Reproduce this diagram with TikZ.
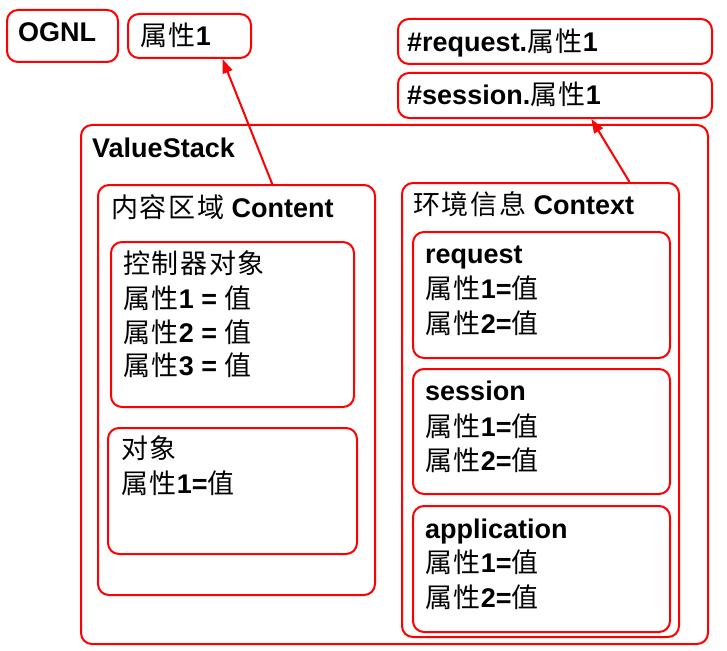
\documentclass[tikz,border=0pt]{standalone}
\usepackage{fontspec}
\setmainfont{Liberation Sans}
\newfontfamily\cjkfont{Noto Sans CJK SC}[LetterSpace=6]
\newcommand{\zh}[1]{{\normalfont\cjkfont #1}}
\usetikzlibrary{arrows.meta,calc}
\definecolor{boxred}{RGB}{255,0,0}
\tikzset{
  box/.style={draw=boxred, line width=2bp, rounded corners=11bp, anchor=north west, inner sep=0pt},
  txt/.style={anchor=base west, inner sep=0pt, font=\fontsize{27bp}{32bp}\selectfont\bfseries},
  link/.style={draw=boxred, line width=2bp, -{Triangle[length=14bp,width=10bp]}}
}
\begin{document}
\begin{tikzpicture}[x=1bp,y=-1bp]
\useasboundingbox (0,0) rectangle (727,651);
% boxes
\node[box, minimum width=111bp, minimum height=52bp] (ognl) at (6,9) {};
\node[box, minimum width=123bp, minimum height=44bp] (attr) at (127,13) {};
\node[box, minimum width=314bp, minimum height=45bp] (reqattr) at (397,18) {};
\node[box, minimum width=314bp, minimum height=45bp] (sessattr) at (397,72) {};
\node[box, minimum width=627bp, minimum height=519bp] (vs) at (80,124) {};
\node[box, minimum width=277bp, minimum height=410bp] (content) at (97,184) {};
\node[box, minimum width=277bp, minimum height=454bp] (context) at (401,182) {};
\node[box, minimum width=243bp, minimum height=165bp] (ctrl) at (110,241) {};
\node[box, minimum width=249bp, minimum height=126bp] (obj) at (107,427) {};
\node[box, minimum width=257bp, minimum height=126bp] (request) at (412,231) {};
\node[box, minimum width=257bp, minimum height=125bp] (session) at (412,368) {};
\node[box, minimum width=257bp, minimum height=126bp] (application) at (412,505) {};
% texts
\node[txt] (tognl) at (18,42) {OGNL};
\node[txt] (tattr) at (140,46) {\zh{属性}1};
\node[txt] (treq) at (407,52) {\#request.\zh{属性}1};
\node[txt] (tsess) at (407,105) {\#session.\zh{属性}1};
\node[txt] (tvs) at (92,157) {ValueStack};
\node[txt] (tcontent) at (111,217) {\zh{内容区域} Content};
\node[txt] (tcontext) at (413,214) {\zh{环境信息} Context};
\node[txt] (tctrl) at (123,273) {\zh{控制器对象}};
\node[txt] (tctrla) at (123,308) {\zh{属性}1 = \zh{值}};
\node[txt] (tctrlb) at (123,342) {\zh{属性}2 = \zh{值}};
\node[txt] (tctrlc) at (123,375) {\zh{属性}3 = \zh{值}};
\node[txt] (tobj) at (121,458) {\zh{对象}};
\node[txt] (tobja) at (121,493) {\zh{属性}1=\zh{值}};
\node[txt] (trequest) at (425,263) {request};
\node[txt] (trequesta) at (425,298) {\zh{属性}1=\zh{值}};
\node[txt] (trequestb) at (425,333) {\zh{属性}2=\zh{值}};
\node[txt] (tsession) at (425,400) {session};
\node[txt] (tsessiona) at (425,436) {\zh{属性}1=\zh{值}};
\node[txt] (tsessionb) at (425,470) {\zh{属性}2=\zh{值}};
\node[txt] (tapp) at (425,538) {application};
\node[txt] (tappa) at (425,572) {\zh{属性}1=\zh{值}};
\node[txt] (tappb) at (425,607) {\zh{属性}2=\zh{值}};
% connectors
\draw[link] ($(content.north west)!0.628!(content.north east)$) -- ($(attr.south west)!0.764!(attr.south east)$);
\draw[link] ($(context.north west)!0.819!(context.north east)$) -- ($(sessattr.south west)!0.615!(sessattr.south east)$);
\end{tikzpicture}
\end{document}
